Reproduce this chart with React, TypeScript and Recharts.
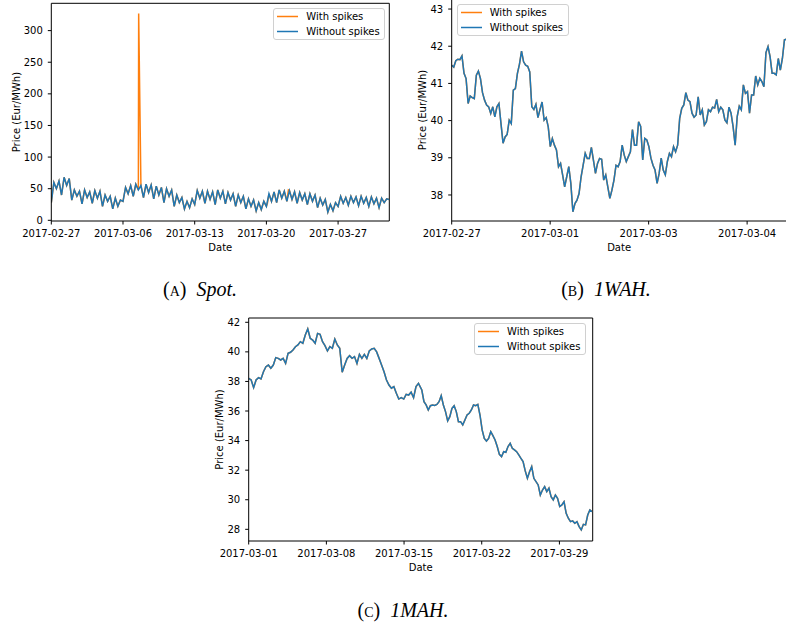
import React from 'react';
import { LineChart, Line, XAxis, YAxis, Legend, Label, ReferenceLine } from 'recharts';

const ORANGE = '#ff7f0e';
const BLUE = '#1f77b4';
const FONT = "'DejaVu Sans', sans-serif";

// ---------- (A) Spot: 6-hourly values from 2017-02-27 ----------
const spotTickDays = [0, 7, 14, 21, 28];
const spotTickLabels = ['2017-02-27', '2017-03-06', '2017-03-13', '2017-03-20', '2017-03-27'];
const spotYTicks = [0, 50, 100, 150, 200, 250, 300];
const spotStepDays = 0.25;
const spotWithoutSpikes = [
  28, 60, 50, 62,
  40, 68, 55, 66,
  32, 48, 38, 46,
  26, 48, 36, 45,
  27, 47, 35, 46,
  22, 40, 30, 38,
  18, 35, 22, 32,
  30, 52, 42, 55,
  38, 57, 48, 55,
  36, 57, 44, 56,
  34, 54, 40, 52,
  28, 50, 38, 48,
  22, 40, 28, 36,
  18, 30, 20, 34,
  25, 47, 35, 46,
  27, 46, 33, 45,
  25, 48, 35, 46,
  26, 44, 32, 42,
  22, 40, 28, 38,
  18, 34, 22, 32,
  15, 28, 17, 30,
  22, 42, 30, 45,
  28, 48, 35, 46,
  30, 47, 33, 45,
  27, 44, 32, 42,
  25, 42, 30, 40,
  20, 35, 24, 33,
  13, 25, 15, 28,
  22, 38, 27, 36,
  24, 38, 28, 37,
  23, 38, 27, 36,
  22, 37, 26, 35,
  20, 35, 28, 34,
  33,
];
const spotSpikeDays = [8.53, 21.1, 23.15];
const spotSpikeValues = [327, 27, 48];

// ---------- (B) 1WAH ----------
const wahTickPos = [0, 1, 2, 3];
const wahTickLabels = ['2017-02-27', '2017-03-01', '2017-03-03', '2017-03-04'];
const wahYTicks = [38, 39, 40, 41, 42, 43];
const wahSpan = 3.4;
const wahWithoutSpikes = [
  41.49, 41.44, 41.61, 41.65, 41.64, 41.74, 41.27, 41.13, 40.46, 40.66, 40.62, 40.59, 41.22, 41.33, 41.13,
  40.75, 40.55, 40.42, 40.37, 40.19, 40.37, 40.10, 40.37, 40.46, 39.92, 39.39, 39.56, 39.63, 40.01, 39.92,
  40.82, 40.86, 41.27, 41.52, 41.87, 41.58, 41.49, 41.46, 41.31, 40.37, 40.30, 40.44, 40.08, 40.30, 40.50,
  40.01, 40.08, 39.83, 39.30, 39.52, 39.34, 39.21, 38.76, 38.85, 38.54, 38.22, 38.49, 38.76, 38.31, 37.55,
  37.77, 37.86, 38.04, 38.49, 38.80, 39.12, 38.98, 38.98, 39.28, 38.94, 38.58, 38.85, 38.98, 38.96, 38.40,
  38.54, 38.22, 37.91, 38.13, 38.40,
  38.80, 38.76, 38.90, 39.34, 39.07, 38.90, 39.03, 39.16, 39.76, 39.34, 39.34, 39.97, 39.84, 38.94, 39.52,
  39.48, 39.30, 38.99, 38.80, 38.67, 38.31, 38.58, 38.99, 38.67, 38.54, 38.90, 39.12, 39.03, 39.30, 39.16,
  39.34, 40.06, 40.33, 40.42, 40.75, 40.55, 40.51, 40.20, 40.09, 40.15, 40.64, 40.15, 40.29, 39.88, 39.97,
  40.29, 40.24, 40.36, 40.34, 40.57, 40.24, 40.36, 40.29, 40.02, 39.94, 40.36, 40.20, 39.84, 39.34, 40.11,
  40.39, 40.29, 40.96, 40.73, 40.78, 40.20, 40.69, 40.69, 41.20, 40.96, 41.14, 41.05, 40.91, 41.83, 41.99,
  41.72, 41.27, 41.27, 41.23, 41.67, 41.36, 41.67, 42.17, 42.19,
];

// ---------- (C) 1MAH ----------
const mahTickDays = [0, 7, 14, 21, 28];
const mahTickLabels = ['2017-03-01', '2017-03-08', '2017-03-15', '2017-03-22', '2017-03-29'];
const mahYTicks = [28, 30, 32, 34, 36, 38, 40, 42];
const mahEarlyDays = [0, 15.3];
const mahEarly = [
  38.21, 38.10, 37.58, 38.10, 38.26, 38.17, 38.66, 39.00, 39.11, 38.89, 39.11, 39.61, 39.56, 39.45, 39.56,
  39.22, 39.90, 39.97, 40.13, 40.35, 40.47, 40.69, 40.58, 41.14, 41.55, 40.92, 40.80, 40.58, 41.25, 41.19,
  40.69, 40.42, 40.06, 40.35, 40.24, 40.87, 40.47, 40.24, 38.62, 39.11, 39.56, 39.74, 39.56, 39.68, 39.22,
  39.83, 39.56, 39.83, 39.56, 40.06, 40.20, 40.24, 40.00, 39.56, 39.11, 38.66, 38.10, 37.76, 37.54, 37.65,
  37.20, 36.81, 36.90, 36.81, 37.13, 37.08, 37.27, 36.90, 37.65, 37.87,
];
const mahLateDays = [15.6, 30.94];
const mahLate = [
  37.42, 36.63, 36.41, 36.07, 36.36, 36.41, 36.38, 36.45, 36.63, 37.04, 36.41, 35.96, 35.33, 35.62, 36.18,
  36.36, 35.96, 35.28, 35.28, 35.06, 35.39, 35.73, 35.85, 36.07, 36.41, 36.36, 36.45, 35.73, 34.72, 34.15,
  33.97, 34.15, 34.61, 34.34, 34.04, 33.60, 33.07, 32.92, 33.25, 33.21, 33.60, 33.82, 33.48, 33.37, 33.25,
  33.03, 32.80, 32.58, 31.95, 31.45, 31.90, 32.24, 31.45, 31.23, 31.00, 30.32, 30.66, 30.89, 30.55, 30.78,
  30.21, 29.99, 30.32, 30.10, 29.54, 29.65, 29.87, 29.08, 28.75, 28.52, 28.57, 28.41, 28.52, 28.18, 27.96,
  28.34, 28.30, 28.97, 29.31, 29.20,
];

const legendNames = ['With spikes', 'Without spikes'];
const legendColors = [ORANGE, BLUE];

// ---------- build tables ----------
type Pt = { t: number; v: number };
const spread = (vals: number[], start: number, end: number): Pt[] =>
  vals.map((v, i) => ({ t: start + ((end - start) * i) / (vals.length - 1), v }));

const spotBlue: Pt[] = spotWithoutSpikes.map((v, i) => ({ t: i * spotStepDays, v }));
const spotOrange: Pt[] = [...spotBlue, ...spotSpikeDays.map((t, i) => ({ t, v: spotSpikeValues[i] }))].sort(
  (a, b) => a.t - b.t
);
const wahBlue = spread(wahWithoutSpikes, 0, wahSpan);
const mahBlue = [...spread(mahEarly, mahEarlyDays[0], mahEarlyDays[1]), ...spread(mahLate, mahLateDays[0], mahLateDays[1])];

function LegendBox() {
  return (
    <div
      style={{
        width: 112,
        height: 32,
        boxSizing: 'border-box',
        border: '1px solid #d0d0d0',
        borderRadius: 3,
        background: 'rgba(255,255,255,0.8)',
        position: 'relative',
        fontFamily: FONT,
        fontSize: 10,
        color: '#000',
      }}
    >
      {legendNames.map((n, i) => (
        <div
          key={n}
          style={{ position: 'absolute', left: 3, top: 0.5 + i * 15.2, height: 13, display: 'flex', alignItems: 'center', whiteSpace: 'nowrap' }}
        >
          <svg width={22} height={13} style={{ display: 'block' }}>
            <line x1={0} y1={6.5} x2={21} y2={6.5} stroke={legendColors[i]} strokeWidth={1.5} />
          </svg>
          <span style={{ marginLeft: 7, lineHeight: '13px' }}>{n}</span>
        </div>
      ))}
    </div>
  );
}

type PanelProps = {
  left: number;
  top: number;
  width: number;
  height: number;
  margin: { top: number; right: number; bottom: number; left: number };
  yWidth: number;
  xDomain: [number, number];
  xTicks: number[];
  xLabels: string[];
  yDomain: [number, number];
  yTicks: number[];
  orange: Pt[];
  blue: Pt[];
  legendLeft: number;
  legendTop: number;
  ylabelGap: number;
};

const tickStyle = { fontSize: 10, fill: '#000', fontFamily: FONT };

function Panel(p: PanelProps) {
  return (
    <div style={{ position: 'absolute', left: p.left, top: p.top }}>
      <LineChart width={p.width} height={p.height} margin={p.margin}>
        <XAxis
          xAxisId="b"
          type="number"
          dataKey="t"
          domain={p.xDomain}
          ticks={p.xTicks}
          interval={0}
          tickFormatter={(v: number) => p.xLabels[p.xTicks.indexOf(v)] ?? ''}
          allowDataOverflow
          height={30}
          tickSize={3.5}
          tickMargin={5}
          stroke="#000"
          tick={tickStyle}
        >
          <Label
            content={(props: any) => {
              const vb = props.viewBox || { x: 0, y: 0, width: 0, height: 0 };
              return (
                <text x={vb.x + vb.width / 2} y={vb.y + 29.8} textAnchor="middle" fontSize={10} fontFamily={FONT} fill="#000">
                  Date
                </text>
              );
            }}
          />
        </XAxis>
        <YAxis
          yAxisId="l"
          type="number"
          domain={p.yDomain}
          ticks={p.yTicks}
          interval={0}
          allowDataOverflow
          width={p.yWidth}
          tickSize={3.5}
          tickMargin={5}
          stroke="#000"
          tick={tickStyle}
        >
          <Label
            content={(props: any) => {
              const vb = props.viewBox || { x: 0, y: 0, width: 0, height: 0 };
              const x = vb.x + vb.width - p.ylabelGap;
              const y = vb.y + vb.height / 2;
              return (
                <text x={x} y={y} transform={`rotate(-90 ${x} ${y})`} textAnchor="middle" fontSize={10} fontFamily={FONT} fill="#000">
                  Price (Eur/MWh)
                </text>
              );
            }}
          />
        </YAxis>
        <ReferenceLine xAxisId="b" yAxisId="l" y={p.yDomain[1]} stroke="#000" strokeWidth={1} ifOverflow="visible" />
        <ReferenceLine xAxisId="b" yAxisId="l" x={p.xDomain[1]} stroke="#000" strokeWidth={1} ifOverflow="visible" />
        <Legend
          layout="horizontal"
          verticalAlign="middle"
          align="center"
          wrapperStyle={{ position: 'absolute', left: p.legendLeft, top: p.legendTop, width: 112, height: 32 }}
          content={() => <LegendBox />}
        />
        <Line
          xAxisId="b"
          yAxisId="l"
          data={p.orange}
          dataKey="v"
          name="With spikes"
          stroke={ORANGE}
          strokeWidth={1.5}
          dot={false}
          activeDot={false}
          isAnimationActive={false}
        />
        <Line
          xAxisId="b"
          yAxisId="l"
          data={p.blue}
          dataKey="v"
          name="Without spikes"
          stroke={BLUE}
          strokeWidth={1.5}
          dot={false}
          activeDot={false}
          isAnimationActive={false}
        />
      </LineChart>
    </div>
  );
}

const captionStyle: React.CSSProperties = {
  position: 'absolute',
  width: 240,
  textAlign: 'center',
  fontFamily: "'Liberation Serif', serif",
  fontSize: 20,
  lineHeight: '24px',
  color: '#000',
};

function Caption({ letter, name, cx, cy }: { letter: string; name: string; cx: number; cy: number }) {
  return (
    <div style={{ ...captionStyle, left: cx - 120, top: cy - 13 }}>
      (<span style={{ fontVariant: 'small-caps' }}>{letter}</span>)&nbsp; <i>{name}</i>
    </div>
  );
}

export default function App() {
  return (
    <div style={{ position: 'absolute', left: 0, top: 0, width: 786, height: 628, background: '#fff', overflow: 'hidden' }}>
      <Panel
        left={0}
        top={0}
        width={400}
        height={260}
        margin={{ top: 3.3, right: 10.7, bottom: 9, left: 0 }}
        yWidth={51.3}
        xDomain={[0, 33]}
        xTicks={spotTickDays}
        xLabels={spotTickLabels}
        yDomain={[-1.1, 343.2]}
        yTicks={spotYTicks}
        orange={spotOrange}
        blue={spotBlue}
        legendLeft={273.3}
        legendTop={8.3}
        ylabelGap={31.3}
      />
      <Panel
        left={390}
        top={-1}
        width={397}
        height={261}
        margin={{ top: 0, right: 0.5, bottom: 9, left: 0 }}
        yWidth={61.7}
        xDomain={[0, wahSpan]}
        xTicks={wahTickPos}
        xLabels={wahTickLabels}
        yDomain={[37.3, 43.27]}
        yTicks={wahYTicks}
        orange={wahBlue}
        blue={wahBlue}
        legendLeft={66.7}
        legendTop={5}
        ylabelGap={26.2}
      />
      <Panel
        left={200}
        top={310}
        width={400}
        height={270}
        margin={{ top: 8, right: 7.3, bottom: 9, left: 0 }}
        yWidth={48.7}
        xDomain={[0, 31]}
        xTicks={mahTickDays}
        xLabels={mahTickLabels}
        yDomain={[27.21, 42.29]}
        yTicks={mahYTicks}
        orange={mahBlue}
        blue={mahBlue}
        legendLeft={274}
        legendTop={13.3}
        ylabelGap={26.2}
      />
      <Caption letter="a" name="Spot." cx={200} cy={290} />
      <Caption letter="b" name="1WAH." cx={606} cy={290} />
      <Caption letter="c" name="1MAH." cx={403} cy={611} />
    </div>
  );
}
